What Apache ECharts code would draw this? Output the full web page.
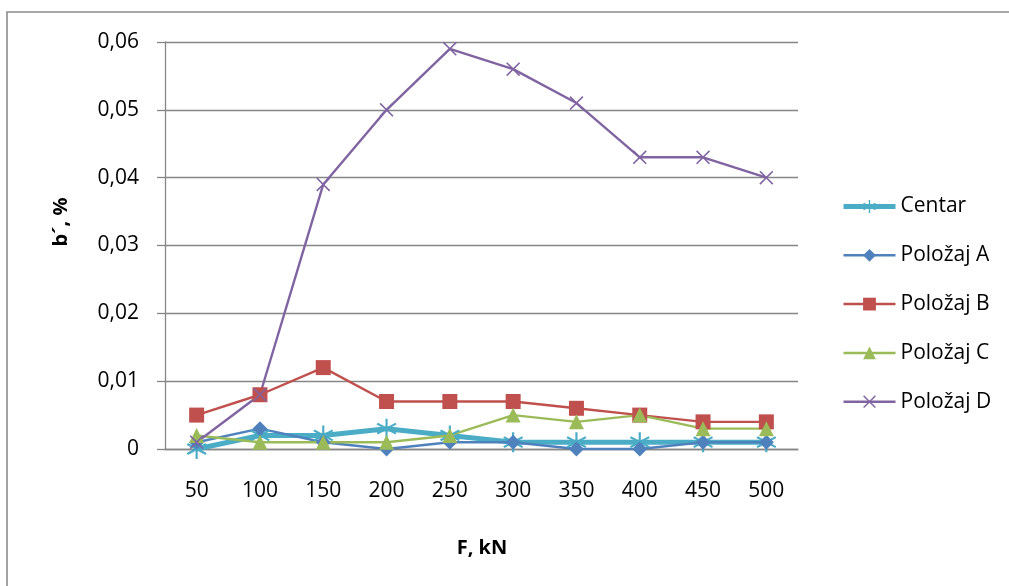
<!DOCTYPE html>
<html>
<head>
<meta charset="utf-8">
<script src="https://cdn.jsdelivr.net/npm/echarts@6/dist/echarts.min.js"></script>
<style>
html,body{margin:0;padding:0;background:#fff;}
#chart{width:1009px;height:586px;}
</style>
</head>
<body>
<div id="chart"></div>
<script>
const categories = ['50','100','150','200','250','300','350','400','450','500'];
const centar  = [0, 0.002, 0.002, 0.003, 0.002, 0.001, 0.001, 0.001, 0.001, 0.001];
const polozajA = [0.001, 0.003, 0.001, 0, 0.001, 0.001, 0, 0, 0.001, 0.001];
const polozajB = [0.005, 0.008, 0.012, 0.007, 0.007, 0.007, 0.006, 0.005, 0.004, 0.004];
const polozajC = [0.002, 0.001, 0.001, 0.001, 0.002, 0.005, 0.004, 0.005, 0.003, 0.003];
const polozajD = [0.001, 0.008, 0.039, 0.050, 0.059, 0.056, 0.051, 0.043, 0.043, 0.040];
const seriesNames = ['Centar', 'Položaj A', 'Položaj B', 'Položaj C', 'Položaj D'];
const xTitle = 'F, kN';
const yTitle = 'b´, %';

const FONT = '"Open Sans", "Noto Sans", sans-serif';
const ASTERISK = 'path://M45,0 L55,0 L55,100 L45,100 Z M10,20.5 L96,70.5 L91,79.5 L4,29.5 Z M4,70.5 L91,20.5 L96,29.5 L10,79.5 Z';
const XMARK = 'path://M0,8 L8,0 L50,42 L92,0 L100,8 L58,50 L100,92 L92,100 L50,58 L8,100 L0,92 L42,50 Z';

const chart = echarts.init(document.getElementById('chart'), null, {renderer: 'canvas'});

function mk(name, data, color, width, symbol, size) {
  return {
    name: name, type: 'line', data: data,
    symbol: symbol, symbolSize: size, showAllSymbol: true,
    lineStyle: {color: color, width: width},
    itemStyle: {color: color, borderWidth: 0},
    emphasis: {disabled: true},
    animation: false
  };
}

chart.setOption({
  animation: false,
  textStyle: {fontFamily: FONT},
  grid: {left: 165, right: 1009 - 798, top: 42, bottom: 586 - 449, containLabel: false},
  legend: {
    orient: 'vertical', left: 836, top: 191,
    itemWidth: 52, itemHeight: 16, itemGap: 27.8,
    textStyle: {fontSize: 21, color: '#000', fontFamily: FONT},
    data: [
      {name: seriesNames[0], lineStyle: {width: 5}},
      {name: seriesNames[1], lineStyle: {width: 2.5}},
      {name: seriesNames[2], lineStyle: {width: 2.5}},
      {name: seriesNames[3], lineStyle: {width: 2.5}},
      {name: seriesNames[4], lineStyle: {width: 2.5}}
    ]
  },
  xAxis: {
    type: 'category', data: categories, boundaryGap: true,
    axisLine: {show: true, lineStyle: {color: '#868686', width: 1.3}},
    axisTick: {show: false},
    axisLabel: {fontSize: 21, color: '#000', margin: 32, fontFamily: FONT},
    splitLine: {show: false}
  },
  yAxis: {
    type: 'value', min: 0, max: 0.06, interval: 0.01,
    axisLine: {show: true, lineStyle: {color: '#868686', width: 1.3}},
    axisTick: {show: true, length: 8, inside: false, lineStyle: {color: '#868686', width: 1.3}},
    axisLabel: {
      fontSize: 21, color: '#000', margin: 26, fontFamily: FONT,
      formatter: function (v) { return v === 0 ? '0' : v.toFixed(2).replace('.', ','); }
    },
    splitLine: {show: true, lineStyle: {color: '#868686', width: 1.3}}
  },
  graphic: [
    {type: 'rect', silent: true, shape: {x: 7, y: 12, width: 1030, height: 620},
     style: {fill: 'none', stroke: '#8c8c8c', lineWidth: 1.6}},
    {type: 'text', silent: true, x: 482, y: 548,
     style: {text: xTitle, fontSize: 20, fontWeight: 'bold', fontFamily: FONT, fill: '#000', align: 'center', verticalAlign: 'middle'}},
    {type: 'text', silent: true, x: 61, y: 222, rotation: Math.PI / 2,
     style: {text: yTitle, fontSize: 20, fontWeight: 'bold', fontFamily: FONT, fill: '#000', align: 'center', verticalAlign: 'middle'}}
  ],
  series: [
    mk(seriesNames[0], centar, '#4bacc6', 5, ASTERISK, 20),
    mk(seriesNames[1], polozajA, '#4f81bd', 2.4, 'diamond', 15),
    mk(seriesNames[2], polozajB, '#c0504d', 2.4, 'rect', 15),
    mk(seriesNames[3], polozajC, '#9bbb59', 2.4, 'triangle', 15),
    mk(seriesNames[4], polozajD, '#8064a2', 2.4, XMARK, 14)
  ]
});
</script>
</body>
</html>
